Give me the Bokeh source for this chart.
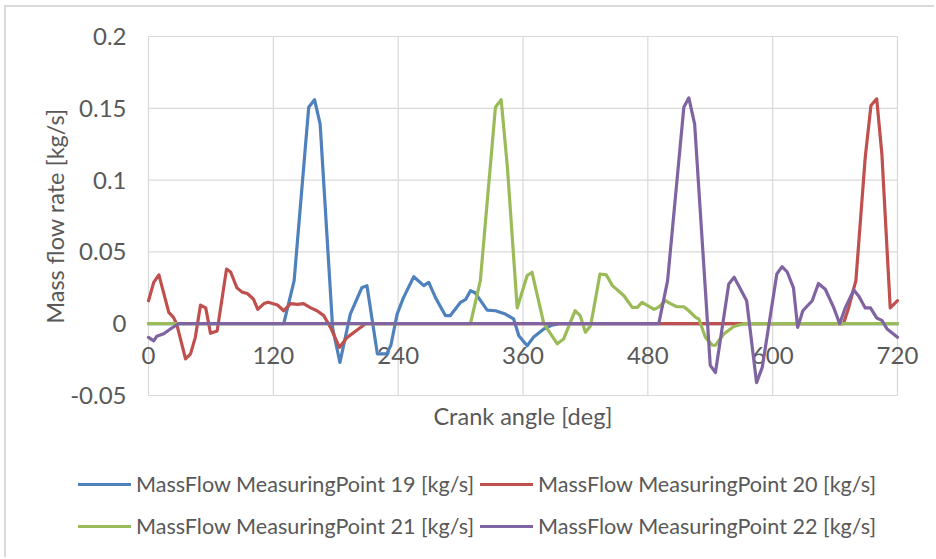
import math
from bokeh.plotting import figure
from bokeh.models import Range1d, Legend, LegendItem
from bokeh.core.properties import value
from bokeh.embed import file_html
from bokeh.resources import INLINE

# ---------------- data ----------------
mp19_x = [0, 130, 140, 154, 159.6, 165, 177, 184, 194, 205, 210, 220, 229, 233,
          239, 245, 255, 264.6, 269.4, 276, 285.5, 290, 300, 305, 309.5, 314,
          325.6, 333.6, 343, 351, 356, 364, 370, 380, 388, 395, 720]
mp19_y = [0, 0, 0.030, 0.1507, 0.156, 0.139, -0.003, -0.027, 0.0067, 0.025,
          0.0265, -0.021, -0.021, -0.015, 0.0067, 0.018, 0.0327, 0.0265, 0.0288,
          0.018, 0.0056, 0.0056, 0.0149, 0.017, 0.023, 0.0215, 0.0095, 0.009,
          0.0067, 0.0033, -0.0084, -0.0153, -0.0095, -0.0037, -0.001, 0, 0]

mp20_x = [0, 5, 10, 19.5, 24, 27, 35.6, 40.4, 45, 50, 55, 59.6, 66, 75, 79, 85,
          90, 95, 101, 105, 111, 115, 124, 130, 136.5, 143, 149, 156, 162,
          168.5, 175, 183.5, 191, 200.6, 208.6, 668, 673, 680, 689, 694.5, 700,
          705, 713, 720]
mp20_y = [0.016, 0.0288, 0.034, 0.0079, 0.0044, 0.0, -0.0245, -0.021, -0.0095,
          0.013, 0.011, -0.0067, -0.005, 0.038, 0.036, 0.025, 0.022, 0.021,
          0.017, 0.010, 0.014, 0.015, 0.013, 0.009, 0.014, 0.0135, 0.014, 0.011,
          0.009, 0.0056, -0.0026, -0.0165, -0.0095, -0.0044, 0.0, 0.0, 0.011,
          0.030, 0.116, 0.152, 0.1566, 0.118, 0.011, 0.016]

mp21_x = [0, 309.5, 319, 333.5, 339, 345, 354.4, 364, 368.7, 380, 393, 399, 410,
          415, 420, 425, 434, 440, 446, 457, 465, 470, 474.4, 479, 486, 490,
          497, 501.6, 508, 514.6, 519.4, 526, 529, 535.4, 542, 545, 553, 562.6,
          572, 720]
mp21_y = [0, 0, 0.030, 0.1507, 0.156, 0.109, 0.011, 0.0335, 0.0358, 0.0, -0.014,
          -0.0107, 0.009, 0.0056, -0.006, -0.0014, 0.0346, 0.034, 0.0265,
          0.0195, 0.0114, 0.0114, 0.0149, 0.013, 0.010, 0.0114, 0.016, 0.014,
          0.0118, 0.0118, 0.009, 0.0044, 0.0033, -0.0095, -0.0149, -0.015,
          -0.0072, -0.002, 0, 0]

mp22_x = [0, 5, 8, 14.7, 21, 29, 490.5, 499, 514.6, 519.4, 525, 540, 545, 557.8,
          563, 575, 584.5, 590, 604, 609, 614, 620, 624, 629, 638, 644, 650.6,
          658.6, 664.4, 670, 678, 683, 689, 694, 700, 705, 710, 720]
mp22_y = [-0.0095, -0.012, -0.0087, -0.007, -0.0037, 0, 0, 0.030, 0.1507,
          0.1573, 0.139, -0.029, -0.034, 0.0277, 0.0323, 0.016, -0.041, -0.0304,
          0.0346, 0.0397, 0.036, 0.025, -0.0026, 0.009, 0.016, 0.028, 0.024,
          0.0114, 0.0, 0.0114, 0.0235, 0.019, 0.011, 0.011, 0.004, 0.0023,
          -0.0037, -0.0095]

series_names = ["MassFlow MeasuringPoint 19 [kg/s]",
                "MassFlow MeasuringPoint 20 [kg/s]",
                "MassFlow MeasuringPoint 21 [kg/s]",
                "MassFlow MeasuringPoint 22 [kg/s]"]
series_colors = ["#4F81BD", "#C0504D", "#9BBB59", "#8064A2"]

x_min, x_max = 0, 720
y_min, y_max = -0.05, 0.2
x_ticks = [0, 120, 240, 360, 480, 600, 720]
x_tick_labels = ["0", "120", "240", "360", "480", "600", "720"]
y_ticks = [-0.05, 0, 0.05, 0.1, 0.15, 0.2]
y_tick_labels = ["-0.05", "0", "0.05", "0.1", "0.15", "0.2"]

x_title = "Crank angle [deg]"
y_title = "Mass flow rate [kg/s]"

# ---------------- layout (pixels) ----------------
W, H = 930, 552            # canvas, placed at (6, 7) on the page
OX, OY = 6, 7
PL, PR, PT, PB = 148, 897, 36, 395   # plot-area edges on the page
sx = (PR - PL) / (x_max - x_min)
sy = (PB - PT) / (y_max - y_min)
xr = Range1d(x_min - (PL - OX) / sx, x_max + (OX + W - PR) / sx)
yr = Range1d(y_min - (OY + H - PB) / sy, y_max + (PT - OY) / sy)

FONT = "Lato"
TXT = "#595959"
GRID = "#d9d9d9"
FS = "23.5px"
LFS = "21.6px"
TFS = "24px"

p = figure(width=W, height=H, output_backend="svg", toolbar_location=None,
           x_range=xr, y_range=yr, x_axis_location=None, y_axis_location=None,
           min_border=0, margin=(5, 0, 0, 4),
           styles={"border-top": "2px solid #d9d9d9",
                   "border-left": "2px solid #d9d9d9"})
p.outline_line_color = None
p.background_fill_color = "white"
p.border_fill_color = "white"
p.xgrid.visible = False
p.ygrid.visible = False

# gridlines restricted to the data area
p.segment(x0=x_ticks, y0=[y_min] * len(x_ticks), x1=x_ticks,
          y1=[y_max] * len(x_ticks), line_color=GRID, line_width=1.2)
p.segment(x0=[x_min] * len(y_ticks), y0=y_ticks, x1=[x_max] * len(y_ticks),
          y1=y_ticks, line_color=GRID, line_width=1.2)

txt_kw = dict(text_font=value(FONT), text_color=TXT)

# y tick labels
p.text(x=[x_min] * len(y_ticks), y=y_ticks, text=y_tick_labels,
       text_align="right", text_baseline="middle", x_offset=-22,
       text_font_size=value(TFS), **txt_kw)
# y title
p.text(x=[x_min], y=[(y_min + y_max) / 2], text=[y_title], angle=math.pi / 2,
       text_align="center", text_baseline="middle", x_offset=-94,
       text_font_size=value(FS), **txt_kw)
# x tick labels next to the zero line
p.text(x=x_ticks, y=[0] * len(x_ticks), text=x_tick_labels,
       text_align="center", text_baseline="middle", y_offset=32,
       text_font_size=value(TFS), **txt_kw)
# x title
p.text(x=[(x_min + x_max) / 2], y=[y_min], text=[x_title],
       text_align="center", text_baseline="middle", y_offset=20,
       text_font_size=value(FS), **txt_kw)

# lines
renderers = []
for xs, ys, col in zip([mp19_x, mp20_x, mp21_x, mp22_x],
                       [mp19_y, mp20_y, mp21_y, mp22_y], series_colors):
    r = p.line(xs, ys, line_color=col, line_width=3.2, line_join="round",
               line_cap="round")
    renderers.append(r)

# legend
legend = Legend(items=[LegendItem(label=n, renderers=[r])
                       for n, r in zip(series_names, renderers)],
                location=(72, 15), orientation="horizontal", ncols=2,
                glyph_width=53, glyph_height=36, label_height=36,
                label_standoff=5, spacing=6, padding=0, margin=0,
                border_line_color=None, background_fill_alpha=0,
                label_text_font=FONT, label_text_font_size=LFS,
                label_text_color=TXT)
p.add_layout(legend, "center")

open("out.html", "w").write(file_html(p, INLINE))
